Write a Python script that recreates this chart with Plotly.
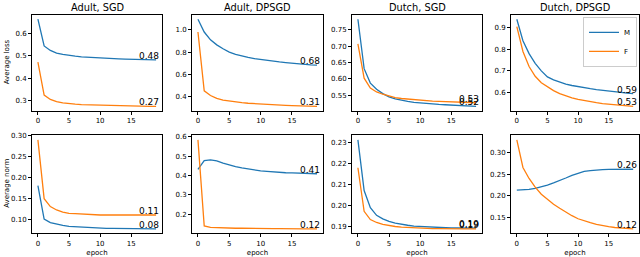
import plotly.graph_objects as go
from plotly.subplots import make_subplots

epochs = list(range(20))

titles = ["Adult, SGD", "Adult, DPSGD", "Dutch, SGD", "Dutch, DPSGD"]

# Average loss (top row)
loss_adult_sgd_M = [0.665, 0.545, 0.525, 0.513, 0.507, 0.502, 0.499, 0.496, 0.494, 0.492,
                    0.490, 0.489, 0.488, 0.487, 0.486, 0.485, 0.485, 0.484, 0.483, 0.483]
loss_adult_sgd_F = [0.472, 0.325, 0.305, 0.295, 0.290, 0.286, 0.284, 0.282, 0.281, 0.280,
                    0.279, 0.278, 0.277, 0.277, 0.276, 0.276, 0.275, 0.275, 0.274, 0.274]
loss_adult_dp_M = [1.095, 0.980, 0.910, 0.865, 0.830, 0.800, 0.780, 0.765, 0.752, 0.742,
                   0.733, 0.725, 0.718, 0.712, 0.706, 0.700, 0.695, 0.690, 0.686, 0.683]
loss_adult_dp_F = [0.980, 0.452, 0.410, 0.385, 0.370, 0.360, 0.352, 0.346, 0.341, 0.337,
                   0.333, 0.330, 0.327, 0.325, 0.322, 0.320, 0.318, 0.316, 0.315, 0.313]
loss_dutch_sgd_M = [0.782, 0.631, 0.587, 0.568, 0.555, 0.545, 0.539, 0.534, 0.531, 0.528,
                    0.526, 0.524, 0.523, 0.522, 0.521, 0.520, 0.519, 0.518, 0.517, 0.516]
loss_dutch_sgd_F = [0.707, 0.602, 0.572, 0.560, 0.553, 0.547, 0.543, 0.540, 0.538, 0.536,
                    0.534, 0.533, 0.532, 0.531, 0.530, 0.529, 0.529, 0.528, 0.528, 0.527]
loss_dutch_dp_M = [0.940, 0.840, 0.780, 0.735, 0.700, 0.672, 0.658, 0.647, 0.638, 0.632,
                   0.626, 0.621, 0.617, 0.613, 0.609, 0.606, 0.603, 0.600, 0.597, 0.594]
loss_dutch_dp_F = [0.906, 0.790, 0.720, 0.675, 0.645, 0.625, 0.608, 0.594, 0.583, 0.575,
                   0.568, 0.562, 0.557, 0.552, 0.548, 0.545, 0.542, 0.539, 0.537, 0.535]

# Average norm (bottom row)
norm_adult_sgd_M = [0.181, 0.101, 0.093, 0.089, 0.086, 0.084, 0.083, 0.082, 0.081, 0.080,
                    0.080, 0.079, 0.079, 0.079, 0.078, 0.078, 0.078, 0.078, 0.078, 0.078]
norm_adult_sgd_F = [0.290, 0.150, 0.131, 0.123, 0.118, 0.115, 0.114, 0.113, 0.112, 0.112,
                    0.111, 0.111, 0.111, 0.111, 0.111, 0.111, 0.111, 0.111, 0.111, 0.111]
norm_adult_dp_M = [0.432, 0.478, 0.482, 0.476, 0.465, 0.455, 0.447, 0.440, 0.434, 0.429,
                   0.425, 0.422, 0.419, 0.417, 0.415, 0.414, 0.413, 0.412, 0.411, 0.410]
norm_adult_dp_F = [0.585, 0.140, 0.133, 0.131, 0.130, 0.129, 0.128, 0.128, 0.127, 0.127,
                   0.126, 0.126, 0.126, 0.126, 0.125, 0.125, 0.125, 0.125, 0.125, 0.125]
norm_dutch_sgd_M = [0.2311, 0.2071, 0.1990, 0.1954, 0.1937, 0.1925, 0.1917, 0.1911, 0.1907, 0.1903,
                    0.1901, 0.1899, 0.1897, 0.1896, 0.1895, 0.1894, 0.1894, 0.1893, 0.1893, 0.1893]
norm_dutch_sgd_F = [0.2179, 0.1973, 0.1934, 0.1920, 0.1911, 0.1905, 0.1901, 0.1898, 0.1896, 0.1894,
                    0.1893, 0.1892, 0.1891, 0.1891, 0.1890, 0.1890, 0.1890, 0.1890, 0.1890, 0.1890]
norm_dutch_dp_M = [0.2135, 0.2137, 0.2150, 0.2175, 0.2210, 0.2250, 0.2300, 0.2350, 0.2410, 0.2470,
                   0.2520, 0.2560, 0.2580, 0.2595, 0.2603, 0.2607, 0.2610, 0.2610, 0.2610, 0.2610]
norm_dutch_dp_F = [0.328, 0.265, 0.240, 0.220, 0.204, 0.192, 0.181, 0.172, 0.163, 0.155,
                   0.148, 0.143, 0.139, 0.135, 0.132, 0.130, 0.128, 0.127, 0.126, 0.125]

end_labels_loss_M = ["0.48", "0.68", "0.52", "0.59"]
end_labels_loss_F = ["0.27", "0.31", "0.53", "0.53"]
end_labels_norm_M = ["0.08", "0.41", "0.19", "0.26"]
end_labels_norm_F = ["0.11", "0.12", "0.19", "0.12"]

loss_M = [loss_adult_sgd_M, loss_adult_dp_M, loss_dutch_sgd_M, loss_dutch_dp_M]
loss_F = [loss_adult_sgd_F, loss_adult_dp_F, loss_dutch_sgd_F, loss_dutch_dp_F]
norm_M = [norm_adult_sgd_M, norm_adult_dp_M, norm_dutch_sgd_M, norm_dutch_dp_M]
norm_F = [norm_adult_sgd_F, norm_adult_dp_F, norm_dutch_sgd_F, norm_dutch_dp_F]

loss_dticks = [0.1, 0.2, 0.05, 0.1]
loss_fmts = [".1f", ".1f", ".2f", ".1f"]
norm_dticks = [0.05, 0.1, 0.01, 0.05]
norm_fmts = [".2f", ".1f", ".2f", ".2f"]

BLUE = "#1f77b4"
ORANGE = "#ff7f0e"
FONT = "DejaVu Sans"
W, H = 640, 257

fig = make_subplots(rows=2, cols=4)

col_px = [(32, 162), (192, 323), (352, 482), (511, 639)]
row_px = [(12, 109), (134, 233)]

def yrange(a, b):
    lo = min(min(a), min(b))
    hi = max(max(a), max(b))
    p = 0.05 * (hi - lo)
    return [lo - p, hi + p]

for r, (Ms, Fs, dts, fmts, labM, labF) in enumerate([
        (loss_M, loss_F, loss_dticks, loss_fmts, end_labels_loss_M, end_labels_loss_F),
        (norm_M, norm_F, norm_dticks, norm_fmts, end_labels_norm_M, end_labels_norm_F)]):
    for c in range(4):
        show = (r == 0 and c == 3)
        fig.add_trace(go.Scatter(x=epochs, y=Ms[c], mode="lines", name="M",
                                 line=dict(color=BLUE, width=1.3), showlegend=show),
                      row=r + 1, col=c + 1)
        fig.add_trace(go.Scatter(x=epochs, y=Fs[c], mode="lines", name="F",
                                 line=dict(color=ORANGE, width=1.3), showlegend=show),
                      row=r + 1, col=c + 1)
        idx = r * 4 + c + 1
        xs = "" if idx == 1 else str(idx)
        for val, txt in [(Ms[c][-1], labM[c]), (Fs[c][-1], labF[c])]:
            fig.add_annotation(x=16, y=val, text=txt, xref="x" + xs, yref="y" + xs,
                               showarrow=False, xanchor="left", yanchor="bottom", yshift=-3,
                               font=dict(family=FONT, size=9, color="black"))
        x0, x1 = col_px[c]
        y0, y1 = row_px[r]
        fig.update_xaxes(domain=[x0 / W, x1 / W], range=[-0.95, 19.95], dtick=5, tick0=0,
                         showline=True, mirror=True, linecolor="black", linewidth=0.8,
                         ticks="outside", ticklen=3, tickcolor="black", showgrid=False,
                         zeroline=False, tickfont=dict(family=FONT, size=7, color="black"),
                         title=dict(text="epoch" if r == 1 else "", font=dict(family=FONT, size=7, color="black"),
                                    standoff=3),
                         row=r + 1, col=c + 1)
        fig.update_yaxes(domain=[1 - y1 / H, 1 - y0 / H], range=yrange(Ms[c], Fs[c]),
                         dtick=dts[c], tickformat=fmts[c],
                         showline=True, mirror=True, linecolor="black", linewidth=0.8,
                         ticks="outside", ticklen=3, tickcolor="black", showgrid=False,
                         zeroline=False, tickfont=dict(family=FONT, size=7, color="black"),
                         row=r + 1, col=c + 1)

for c in range(4):
    x0, x1 = col_px[c]
    fig.add_annotation(x=(x0 + x1) / 2 / W, y=1 - 5 / H, xref="paper", yref="paper",
                       text=titles[c], showarrow=False, xanchor="center", yanchor="middle",
                       font=dict(family=FONT, size=9.8, color="black"))

fig.add_annotation(x=7 / W, y=1 - 60 / H, xref="paper", yref="paper", text="Average loss",
                   textangle=-90, showarrow=False, xanchor="center", yanchor="middle",
                   font=dict(family=FONT, size=7, color="black"))
fig.add_annotation(x=7 / W, y=1 - 183 / H, xref="paper", yref="paper", text="Average norm",
                   textangle=-90, showarrow=False, xanchor="center", yanchor="middle",
                   font=dict(family=FONT, size=7, color="black"))

fig.update_layout(width=W, height=H, margin=dict(l=0, r=0, t=0, b=0),
                  paper_bgcolor="white", plot_bgcolor="white",
                  legend=dict(x=637 / W, y=1 - 14 / H, xanchor="right", yanchor="top",
                              bgcolor="white", bordercolor="#cccccc", borderwidth=1,
                              font=dict(family=FONT, size=7, color="black"),
                              itemwidth=30, tracegroupgap=0))

fig.write_html("out.html", config={"displayModeBar": False},
               post_script="document.body.style.margin='0';document.body.style.padding='0';")
